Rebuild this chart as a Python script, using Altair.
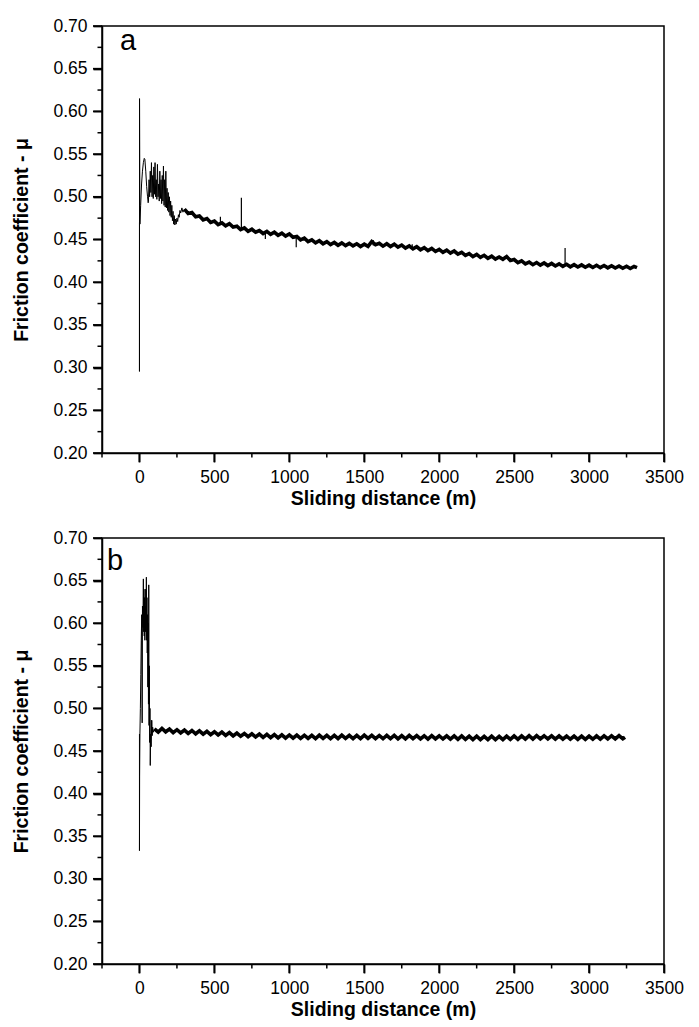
import altair as alt
import pandas as pd

FONT = "Liberation Sans"

# ---------------- tick values ----------------
x_major = [0, 500, 1000, 1500, 2000, 2500, 3000, 3500]
x_minor = [-250, 250, 750, 1250, 1750, 2250, 2750, 3250]
y_major = [0.20, 0.25, 0.30, 0.35, 0.40, 0.45, 0.50, 0.55, 0.60, 0.65, 0.70]
y_minor = [0.225, 0.275, 0.325, 0.375, 0.425, 0.475, 0.525, 0.575, 0.625, 0.675]

# ---------------- panel a ----------------
a_start_d = [0, 0, 0.5, 3, 8, 14, 20, 26, 32, 36, 42, 48, 54, 58,
             60, 64, 68, 72, 76, 80, 84, 88, 92, 96, 100, 104, 108, 112, 116, 120,
             124, 128, 132, 136, 140, 144, 148, 152, 156, 160, 164, 168, 172, 176,
             180, 184, 188, 192, 196, 200, 204, 208, 212, 216, 220, 224, 228, 232,
             236, 240, 245, 250, 255, 260, 265, 270, 275, 283, 290, 300]
a_start_mu = [0.470, 0.2955, 0.615, 0.468, 0.490, 0.515, 0.530, 0.540, 0.545, 0.544, 0.530, 0.512, 0.500, 0.493,
              0.495, 0.520, 0.500, 0.530, 0.505, 0.540, 0.500, 0.525, 0.498, 0.535, 0.503, 0.540, 0.500, 0.520, 0.497, 0.538,
              0.500, 0.515, 0.495, 0.530, 0.498, 0.520, 0.492, 0.525, 0.495, 0.536, 0.490, 0.520, 0.488, 0.530,
              0.487, 0.510, 0.484, 0.505, 0.482, 0.500, 0.478, 0.495, 0.476, 0.490, 0.472, 0.483, 0.468, 0.478,
              0.467, 0.474, 0.468, 0.475, 0.471, 0.479, 0.476, 0.484, 0.481, 0.487, 0.482, 0.4855]

a_band_d = [300, 325, 350, 375, 400, 425, 450, 475, 500, 525, 550, 575, 600, 625, 650, 675,
            700, 725, 750, 775, 800, 825, 850, 875, 900, 925, 950, 975, 1000, 1025, 1050, 1075,
            1100, 1125, 1150, 1175, 1200, 1225, 1250, 1275, 1300, 1325, 1350, 1375, 1400, 1425,
            1450, 1475, 1500, 1525, 1550, 1575, 1600, 1625, 1650, 1675, 1700, 1725, 1750, 1775,
            1800, 1825, 1850, 1875, 1900, 1925, 1950, 1975, 2000, 2025, 2050, 2075, 2100, 2125,
            2150, 2175, 2200, 2225, 2250, 2275, 2300, 2325, 2350, 2375, 2400, 2425, 2450, 2475,
            2500, 2525, 2550, 2575, 2600, 2625, 2650, 2675, 2700, 2725, 2750, 2775, 2800, 2825,
            2850, 2875, 2900, 2925, 2950, 2975, 3000, 3025, 3050, 3075, 3100, 3125, 3150, 3175,
            3200, 3225, 3250, 3275, 3300, 3320]
a_band_mu = [0.4855, 0.4805, 0.4815, 0.4765, 0.4775, 0.4730, 0.4745, 0.4700, 0.4715, 0.4675, 0.4695, 0.4660,
             0.4685, 0.4645, 0.4655, 0.4615, 0.4635, 0.4595, 0.4620, 0.4585, 0.4605, 0.4570, 0.4595, 0.4560,
             0.4585, 0.4550, 0.4575, 0.4540, 0.4565, 0.4525, 0.4535, 0.4495, 0.4515, 0.4475, 0.4495, 0.4460,
             0.4485, 0.4450, 0.4475, 0.4440, 0.4465, 0.4432, 0.4460, 0.4428, 0.4455, 0.4425, 0.4450, 0.4418,
             0.4445, 0.4420, 0.4475, 0.4440, 0.4455, 0.4422, 0.4450, 0.4418, 0.4445, 0.4410, 0.4435, 0.4400,
             0.4425, 0.4390, 0.4415, 0.4380, 0.4405, 0.4370, 0.4395, 0.4360, 0.4385, 0.4350, 0.4375, 0.4340,
             0.4365, 0.4328, 0.4350, 0.4315, 0.4335, 0.4300, 0.4325, 0.4290, 0.4315, 0.4280, 0.4305, 0.4270,
             0.4295, 0.4268, 0.4300, 0.4255, 0.4265, 0.4228, 0.4250, 0.4215, 0.4235, 0.4205, 0.4230, 0.4200,
             0.4225, 0.4195, 0.4220, 0.4190, 0.4215, 0.4185, 0.4210, 0.4180, 0.4205, 0.4178, 0.4203, 0.4175,
             0.4200, 0.4172, 0.4198, 0.4170, 0.4195, 0.4168, 0.4193, 0.4166, 0.4190, 0.4163, 0.4187, 0.4160,
             0.4184, 0.4170]

a_spike_d = [540, 680, 840, 1046, 1560, 1820, 2840]
a_spike_lo = [0.468, 0.462, 0.4505, 0.441, 0.443, 0.440, 0.419]
a_spike_hi = [0.4765, 0.499, 0.458, 0.454, 0.4495, 0.4445, 0.440]

# ---------------- panel b ----------------
b_start_d = [0, 0, 1, 3, 6, 9, 12, 15, 18, 20, 23, 26, 28, 30, 32, 34, 36, 38, 40, 42, 44, 46,
             48, 50, 52, 54, 56, 58, 60, 62, 64, 66, 68, 70, 72, 75, 78, 82, 85, 88, 92, 100]
b_start_mu = [0.470, 0.333, 0.420, 0.470, 0.500, 0.540, 0.580, 0.610, 0.483, 0.620, 0.595, 0.652,
              0.590, 0.640, 0.585, 0.630, 0.580, 0.620, 0.590, 0.640, 0.600, 0.654, 0.580, 0.630,
              0.565, 0.610, 0.525, 0.600, 0.505, 0.645, 0.480, 0.550, 0.460, 0.500, 0.433, 0.470,
              0.455, 0.486, 0.468, 0.478, 0.472, 0.476]

b_band_d = [100, 125, 150, 175, 200, 225, 250, 275, 300, 325, 350, 375, 400, 425, 450, 475,
            500, 525, 550, 575, 600, 625, 650, 675, 700, 725, 750, 775, 800, 825, 850, 875,
            900, 925, 950, 975, 1000, 1025, 1050, 1075, 1100, 1125, 1150, 1175, 1200, 1225,
            1250, 1275, 1300, 1325, 1350, 1375, 1400, 1425, 1450, 1475, 1500, 1525, 1550, 1575,
            1600, 1625, 1650, 1675, 1700, 1725, 1750, 1775, 1800, 1825, 1850, 1875, 1900, 1925,
            1950, 1975, 2000, 2025, 2050, 2075, 2100, 2125, 2150, 2175, 2200, 2225, 2250, 2275,
            2300, 2325, 2350, 2375, 2400, 2425, 2450, 2475, 2500, 2525, 2550, 2575, 2600, 2625,
            2650, 2675, 2700, 2725, 2750, 2775, 2800, 2825, 2850, 2875, 2900, 2925, 2950, 2975,
            3000, 3025, 3050, 3075, 3100, 3125, 3150, 3175, 3200, 3225, 3240]
b_band_mu = [0.4760, 0.4722, 0.4765, 0.4725, 0.4757, 0.4716, 0.4750, 0.4712, 0.4746, 0.4707, 0.4741, 0.4702,
             0.4736, 0.4697, 0.4731, 0.4692, 0.4726, 0.4688, 0.4721, 0.4683, 0.4716, 0.4678, 0.4711, 0.4673,
             0.4706, 0.4668, 0.4701, 0.4664, 0.4698, 0.4660, 0.4695, 0.4657, 0.4693, 0.4655, 0.4690, 0.4652,
             0.4688, 0.4650, 0.4686, 0.4649, 0.4685, 0.4647, 0.4684, 0.4646, 0.4686, 0.4648, 0.4684, 0.4646,
             0.4683, 0.4645, 0.4685, 0.4647, 0.4683, 0.4645, 0.4684, 0.4646, 0.4686, 0.4648, 0.4683, 0.4645,
             0.4682, 0.4644, 0.4683, 0.4645, 0.4682, 0.4643, 0.4681, 0.4643, 0.4682, 0.4644, 0.4680, 0.4642,
             0.4679, 0.4641, 0.4680, 0.4642, 0.4679, 0.4641, 0.4678, 0.4640, 0.4677, 0.4638, 0.4676, 0.4637,
             0.4674, 0.4635, 0.4673, 0.4634, 0.4672, 0.4633, 0.4673, 0.4634, 0.4672, 0.4633, 0.4674, 0.4636,
             0.4676, 0.4638, 0.4678, 0.4640, 0.4679, 0.4641, 0.4680, 0.4642, 0.4679, 0.4641, 0.4678, 0.4640,
             0.4677, 0.4639, 0.4676, 0.4638, 0.4675, 0.4637, 0.4674, 0.4636, 0.4675, 0.4638, 0.4677, 0.4640,
             0.4678, 0.4641, 0.4679, 0.4642, 0.4680, 0.4643, 0.4662]

b_spike_d = [80]
b_spike_lo = [0.470]
b_spike_hi = [0.486]

X_TITLE = "Sliding distance (m)"
Y_TITLE = "Friction coefficient - μ"

XS = dict(domain=[-250, 3500], nice=False, zero=False)
YS = dict(domain=[0.2, 0.7], nice=False, zero=False)

AX = alt.Axis(values=x_major, format="d", ticks=True, tickSize=9, tickWidth=1.7, tickColor="#000000",
              tickOpacity=1, domain=True, domainWidth=1.5, domainColor="black",
              labelFont=FONT, labelFontSize=17.5, labelColor="black", labelPadding=6,
              labelFlush=False, labelOverlap=False,
              title=X_TITLE, titleFont=FONT, titleFontSize=19.5, titleFontWeight="bold",
              titleColor="black", titlePadding=4, minExtent=32, maxExtent=32, grid=False)

AY = alt.Axis(values=y_major, format=".2f", ticks=True, tickSize=9, tickWidth=1.7, tickColor="#000000",
              tickOpacity=1, domain=True, domainWidth=1.5, domainColor="black",
              labelFont=FONT, labelFontSize=17.5, labelColor="black", labelPadding=6,
              labelFlush=False, labelOverlap=False,
              title=Y_TITLE, titleFont=FONT, titleFontSize=19.5, titleFontWeight="bold",
              titleColor="black", titlePadding=16, minExtent=55, maxExtent=55, grid=False)


def X():
    return alt.X("d:Q", scale=alt.Scale(**XS), axis=AX)


def Y():
    return alt.Y("mu:Q", scale=alt.Scale(**YS), axis=AY)


def ticks(h):
    # major ticks drawn as small tick marks (rectangles) centred just outside the frame
    ymaj = alt.Chart(pd.DataFrame({"mu": y_major})).mark_tick(
        color="#000000", orient="horizontal", size=9, thickness=1.7, opacity=1).encode(
        y=Y(), x=alt.value(-4.5))
    ymin = alt.Chart(pd.DataFrame({"mu": y_minor})).mark_rule(color="black", strokeWidth=1.5).encode(
        y=Y(), x=alt.value(-4.5), x2=alt.value(0))
    xmaj = alt.Chart(pd.DataFrame({"d": x_major})).mark_tick(
        color="#000000", orient="vertical", size=9, thickness=1.7, opacity=1).encode(
        x=X(), y=alt.value(h + 4.5))
    xmin = alt.Chart(pd.DataFrame({"d": x_minor})).mark_rule(color="black", strokeWidth=1.5).encode(
        x=X(), y=alt.value(h), y2=alt.value(h + 4.5))
    return [ymaj, ymin, xmaj, xmin]


def panel(tag, sd, smu, bd, bmu, kd, klo, khi, h, lx, ly):
    start = alt.Chart(pd.DataFrame({"d": sd, "mu": smu, "i": list(range(len(sd)))})).mark_line(
        color="black", strokeWidth=1).encode(x=X(), y=Y(), order="i:Q")
    band = alt.Chart(pd.DataFrame({"d": bd, "mu": bmu, "i": list(range(len(bd)))})).mark_line(
        color="black", strokeWidth=3.6).encode(x=X(), y=Y(), order="i:Q")
    spikes = alt.Chart(pd.DataFrame({"d": kd, "mu": klo, "mu2": khi})).mark_rule(
        color="black", strokeWidth=1.2).encode(x=X(), y=Y(), y2="mu2:Q")
    label = alt.Chart(pd.DataFrame({"t": [tag]})).mark_text(
        font=FONT, fontSize=29, color="black", align="left", baseline="alphabetic").encode(
        text="t:N", x=alt.value(lx), y=alt.value(ly))
    return alt.layer(*ticks(h), start, band, spikes, label).properties(width=562, height=h)


pa = panel("a", a_start_d, a_start_mu, a_band_d, a_band_mu, a_spike_d, a_spike_lo, a_spike_hi, 427, 18, 24)
pb = panel("b", b_start_d, b_start_mu, b_band_d, b_band_mu, b_spike_d, b_spike_lo, b_spike_hi, 426, 5, 32)

chart = alt.vconcat(pa, pb, spacing=19).properties(
    padding={"left": 2, "top": 8, "right": 5, "bottom": 5},
).configure_view(stroke="black", strokeWidth=1.5)

chart.save("out.html", embed_options={"renderer": "svg", "actions": False})
